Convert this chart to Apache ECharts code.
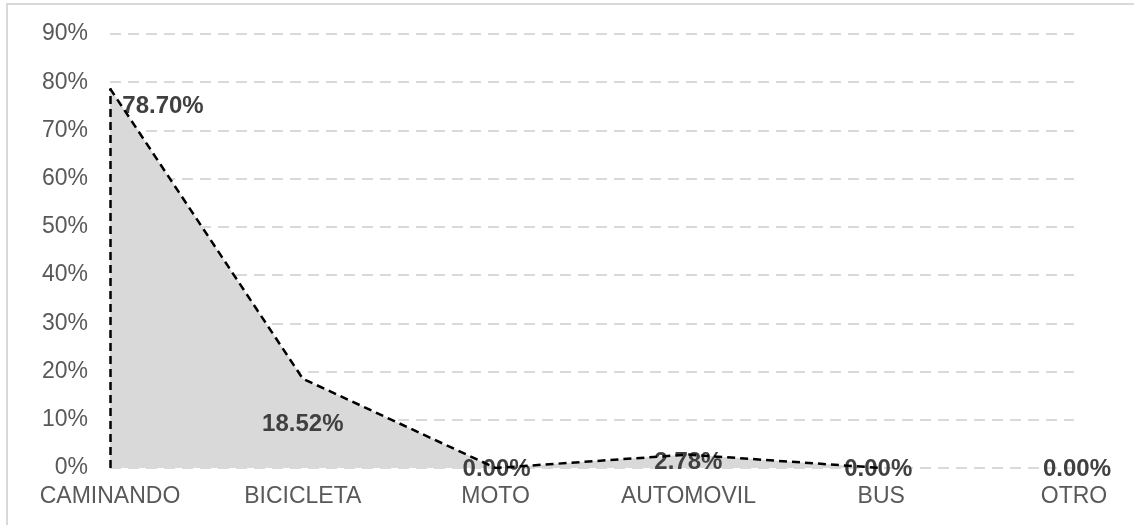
<!DOCTYPE html>
<html>
<head>
<meta charset="utf-8">
<script src="https://cdn.jsdelivr.net/npm/echarts@6/dist/echarts.min.js"></script>
<style>
  html, body { margin: 0; padding: 0; background: #fff; }
  #chart { width: 1134px; height: 525px; }
</style>
</head>
<body>
<div id="chart"></div>
<script>
const categories = ['CAMINANDO', 'BICICLETA', 'MOTO', 'AUTOMOVIL', 'BUS', 'OTRO'];
const values = [78.70, 18.52, 0.00, 2.78, 0.00, 0.00];
const yTicks = [0, 10, 20, 30, 40, 50, 60, 70, 80, 90];
const outlineLastIndex = 4; // the dashed outline stops at BUS
const labelOffsets = [[53, 18], [0, 46], [1, 1], [0, 8], [-3, 1], [3, 1]];

const chart = echarts.init(document.getElementById('chart'), null, { renderer: 'canvas' });
const font = 'Liberation Sans, Arial, sans-serif';

chart.setOption({
  animation: false,
  backgroundColor: '#ffffff',
  graphic: [{
    type: 'rect',
    shape: { x: 7, y: 4, width: 1140, height: 540 },
    style: { fill: 'none', stroke: '#d9d9d9', lineWidth: 2 },
    silent: true, z: -10
  }],
  grid: { left: 110, right: 60, top: 34, bottom: 57, containLabel: false },
  xAxis: {
    type: 'category',
    data: categories,
    boundaryGap: false,
    axisLine: { show: false },
    axisTick: { show: false },
    axisLabel: { color: '#595959', fontSize: 23, fontFamily: font, margin: 17, interval: 0 }
  },
  yAxis: {
    type: 'value',
    min: yTicks[0],
    max: yTicks[yTicks.length - 1],
    interval: yTicks[1] - yTicks[0],
    axisLine: { show: false },
    axisTick: { show: false },
    axisLabel: { color: '#595959', fontSize: 23, fontFamily: font, margin: 22, formatter: '{value}%' },
    splitLine: { show: true, lineStyle: { color: '#d9d9d9', width: 2, type: [11, 7] } }
  },
  series: [
    {
      type: 'line',
      data: values.map((v, i) => ({
        value: v,
        label: { offset: labelOffsets[i] }
      })),
      symbol: 'circle',
      symbolSize: 1,
      showSymbol: true,
      itemStyle: { color: 'rgba(0,0,0,0)' },
      lineStyle: { width: 0, color: 'rgba(0,0,0,0)' },
      areaStyle: { color: '#d9d9d9', opacity: 1 },
      label: {
        show: true,
        position: 'inside',
        color: '#404040',
        fontSize: 24,
        fontWeight: 'bold',
        fontFamily: font,
        formatter: p => p.value.toFixed(2) + '%'
      },
      z: 2
    },
    {
      type: 'line',
      data: values.slice(0, outlineLastIndex + 1),
      symbol: 'none',
      lineStyle: { color: '#000000', width: 2.5, type: [8, 5] },
      markLine: {
        silent: true,
        symbol: 'none',
        label: { show: false },
        lineStyle: { color: '#000000', width: 2.5, type: [8, 5] },
        data: [[{ coord: [categories[0], 0] }, { coord: [categories[0], values[0]] }]]
      },
      z: 3
    }
  ]
});
</script>
</body>
</html>
